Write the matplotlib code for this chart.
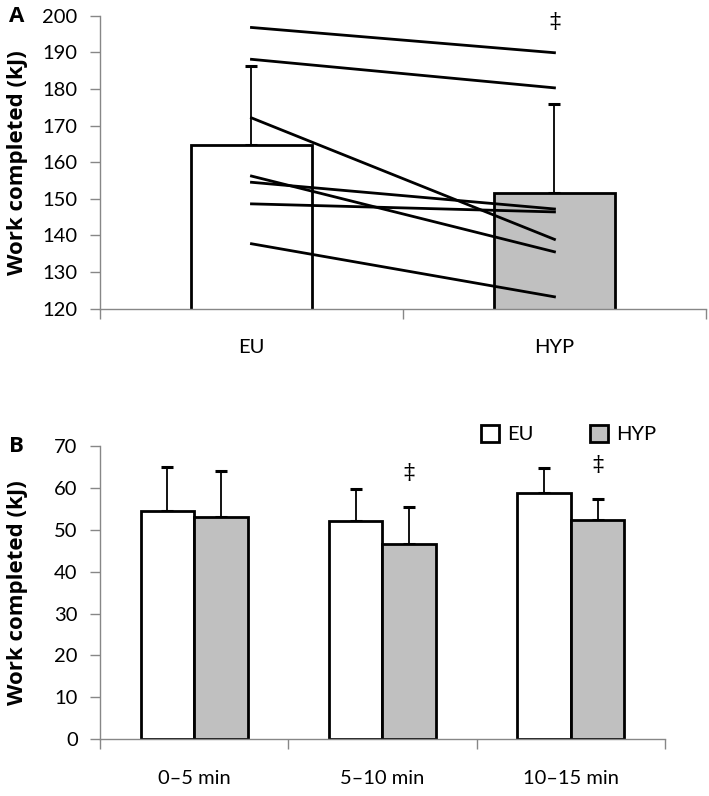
import matplotlib.pyplot as plt
from matplotlib.patches import Patch

# panel A - whole trial
conditions = ["EU", "HYP"]
mean_a = [164.8, 151.6]
sd_a = [21.6, 24.4]
# individual subjects (EU -> HYP)
eu_ind = [196.8, 188.1, 172.1, 156.2, 154.5, 148.6, 137.7]
hyp_ind = [189.9, 180.3, 138.9, 135.5, 147.2, 146.4, 123.2]
sig_a = [False, True]

# panel B - 5 min blocks
intervals = ["0\u20135 min", "5\u201310 min", "10\u201315 min"]
eu_b = [54.4, 52.1, 58.7]
eu_sd = [10.6, 7.7, 6.0]
hyp_b = [52.9, 46.6, 52.2]
hyp_sd = [11.1, 8.9, 5.2]
sig_b = [False, True, True]

plt.rcParams["font.family"] = ["Lato", "DejaVu Sans"]
gray = "#878787"
hyp_col = "#c0c0c0"

fig = plt.figure(figsize=(7.09, 7.96), dpi=100)
ax_a = fig.add_axes([0.1410, 0.6124, 0.8547, 0.3678])
ax_b = fig.add_axes([0.1410, 0.0712, 0.7969, 0.3688])


def style_axis(ax, n):
    for s in ["top", "right"]:
        ax.spines[s].set_visible(False)
    for s in ["left", "bottom"]:
        ax.spines[s].set_color(gray)
        ax.spines[s].set_linewidth(1.0)
    ax.set_xlim(0, n)
    ax.set_xticks(range(n + 1))
    ax.set_xticklabels([])
    ax.tick_params(axis="x", which="major", length=7, color=gray, width=1.0)
    ax.tick_params(axis="y", length=7, color=gray, width=1.0, pad=9, labelsize=14.5)
    ax.tick_params(axis="x", which="minor", length=0, pad=22, labelsize=14.5)


# ---- panel A
xa = [i + 0.5 for i in range(len(conditions))]
ax_a.bar(xa, mean_a, width=0.4, bottom=0, color=["white", hyp_col],
         edgecolor="black", linewidth=2.0, zorder=2)
ax_a.errorbar(xa, mean_a, yerr=[[0, 0], sd_a], fmt="none", ecolor="black",
              elinewidth=1.3, capsize=4, capthick=2.2, zorder=1)
for e, h in zip(eu_ind, hyp_ind):
    ax_a.plot(xa, [e, h], color="black", linewidth=2.0, zorder=3)
for x, s in zip(xa, sig_a):
    if s:
        ax_a.text(x, 198.3, "\u2021", ha="center", va="center", fontsize=16,
                  family=["DejaVu Serif"], clip_on=False)
ax_a.set_ylim(120, 200)
ax_a.set_yticks(range(120, 201, 10))
style_axis(ax_a, len(conditions))
ax_a.set_xticks(xa, minor=True)
ax_a.set_xticklabels(conditions, minor=True)
ax_a.set_ylabel("Work completed (kJ)", fontsize=16, fontweight="bold",
                family=["Open Sans", "DejaVu Sans"], va="center")
ax_a.yaxis.set_label_coords(-0.1353, 0.5)

# ---- panel B
w = 0.2836
xb = [i + 0.5 for i in range(len(intervals))]
x_eu = [x - w / 2 for x in xb]
x_hyp = [x + w / 2 for x in xb]
ax_b.bar(x_eu, eu_b, width=w, color="white", edgecolor="black", linewidth=2.0,
         zorder=2, label="EU")
ax_b.bar(x_hyp, hyp_b, width=w, color=hyp_col, edgecolor="black", linewidth=2.0,
         zorder=2, label="HYP")
ax_b.errorbar(x_eu, eu_b, yerr=[[0] * 3, eu_sd], fmt="none", ecolor="black",
              elinewidth=1.3, capsize=4, capthick=2.2, zorder=1)
ax_b.errorbar(x_hyp, hyp_b, yerr=[[0] * 3, hyp_sd], fmt="none", ecolor="black",
              elinewidth=1.3, capsize=4, capthick=2.2, zorder=1)
for x, v, e, s in zip(x_hyp, hyp_b, hyp_sd, sig_b):
    if s:
        ax_b.text(x, v + e + 8.0, "\u2021", ha="center", va="center", fontsize=16,
                  family=["DejaVu Serif"])
ax_b.set_ylim(0, 70)
ax_b.set_yticks(range(0, 71, 10))
style_axis(ax_b, len(intervals))
ax_b.set_xticks(xb, minor=True)
ax_b.set_xticklabels(intervals, minor=True)
ax_b.set_ylabel("Work completed (kJ)", fontsize=16, fontweight="bold",
                family=["Open Sans", "DejaVu Sans"], va="center")
ax_b.yaxis.set_label_coords(-0.1451, 0.5)

handles = [Patch(facecolor="white", edgecolor="black", linewidth=2.0, label="EU"),
           Patch(facecolor=hyp_col, edgecolor="black", linewidth=2.0, label="HYP")]
fig.legend(handles=handles, loc="center left", bbox_to_anchor=(481 / 709, 1 - 434 / 796),
           ncol=2, frameon=False, fontsize=14.5, handlelength=0.9, handleheight=0.9,
           handletextpad=0.4, columnspacing=2.8, borderpad=0, borderaxespad=0)

fig.text(9 / 709, 1 - 16 / 796, "A", fontsize=16, fontweight="bold",
         family=["Open Sans"], va="center")
fig.text(9 / 709, 1 - 447 / 796, "B", fontsize=16, fontweight="bold",
         family=["Open Sans"], va="center")

fig.savefig("out.png", dpi=100)
